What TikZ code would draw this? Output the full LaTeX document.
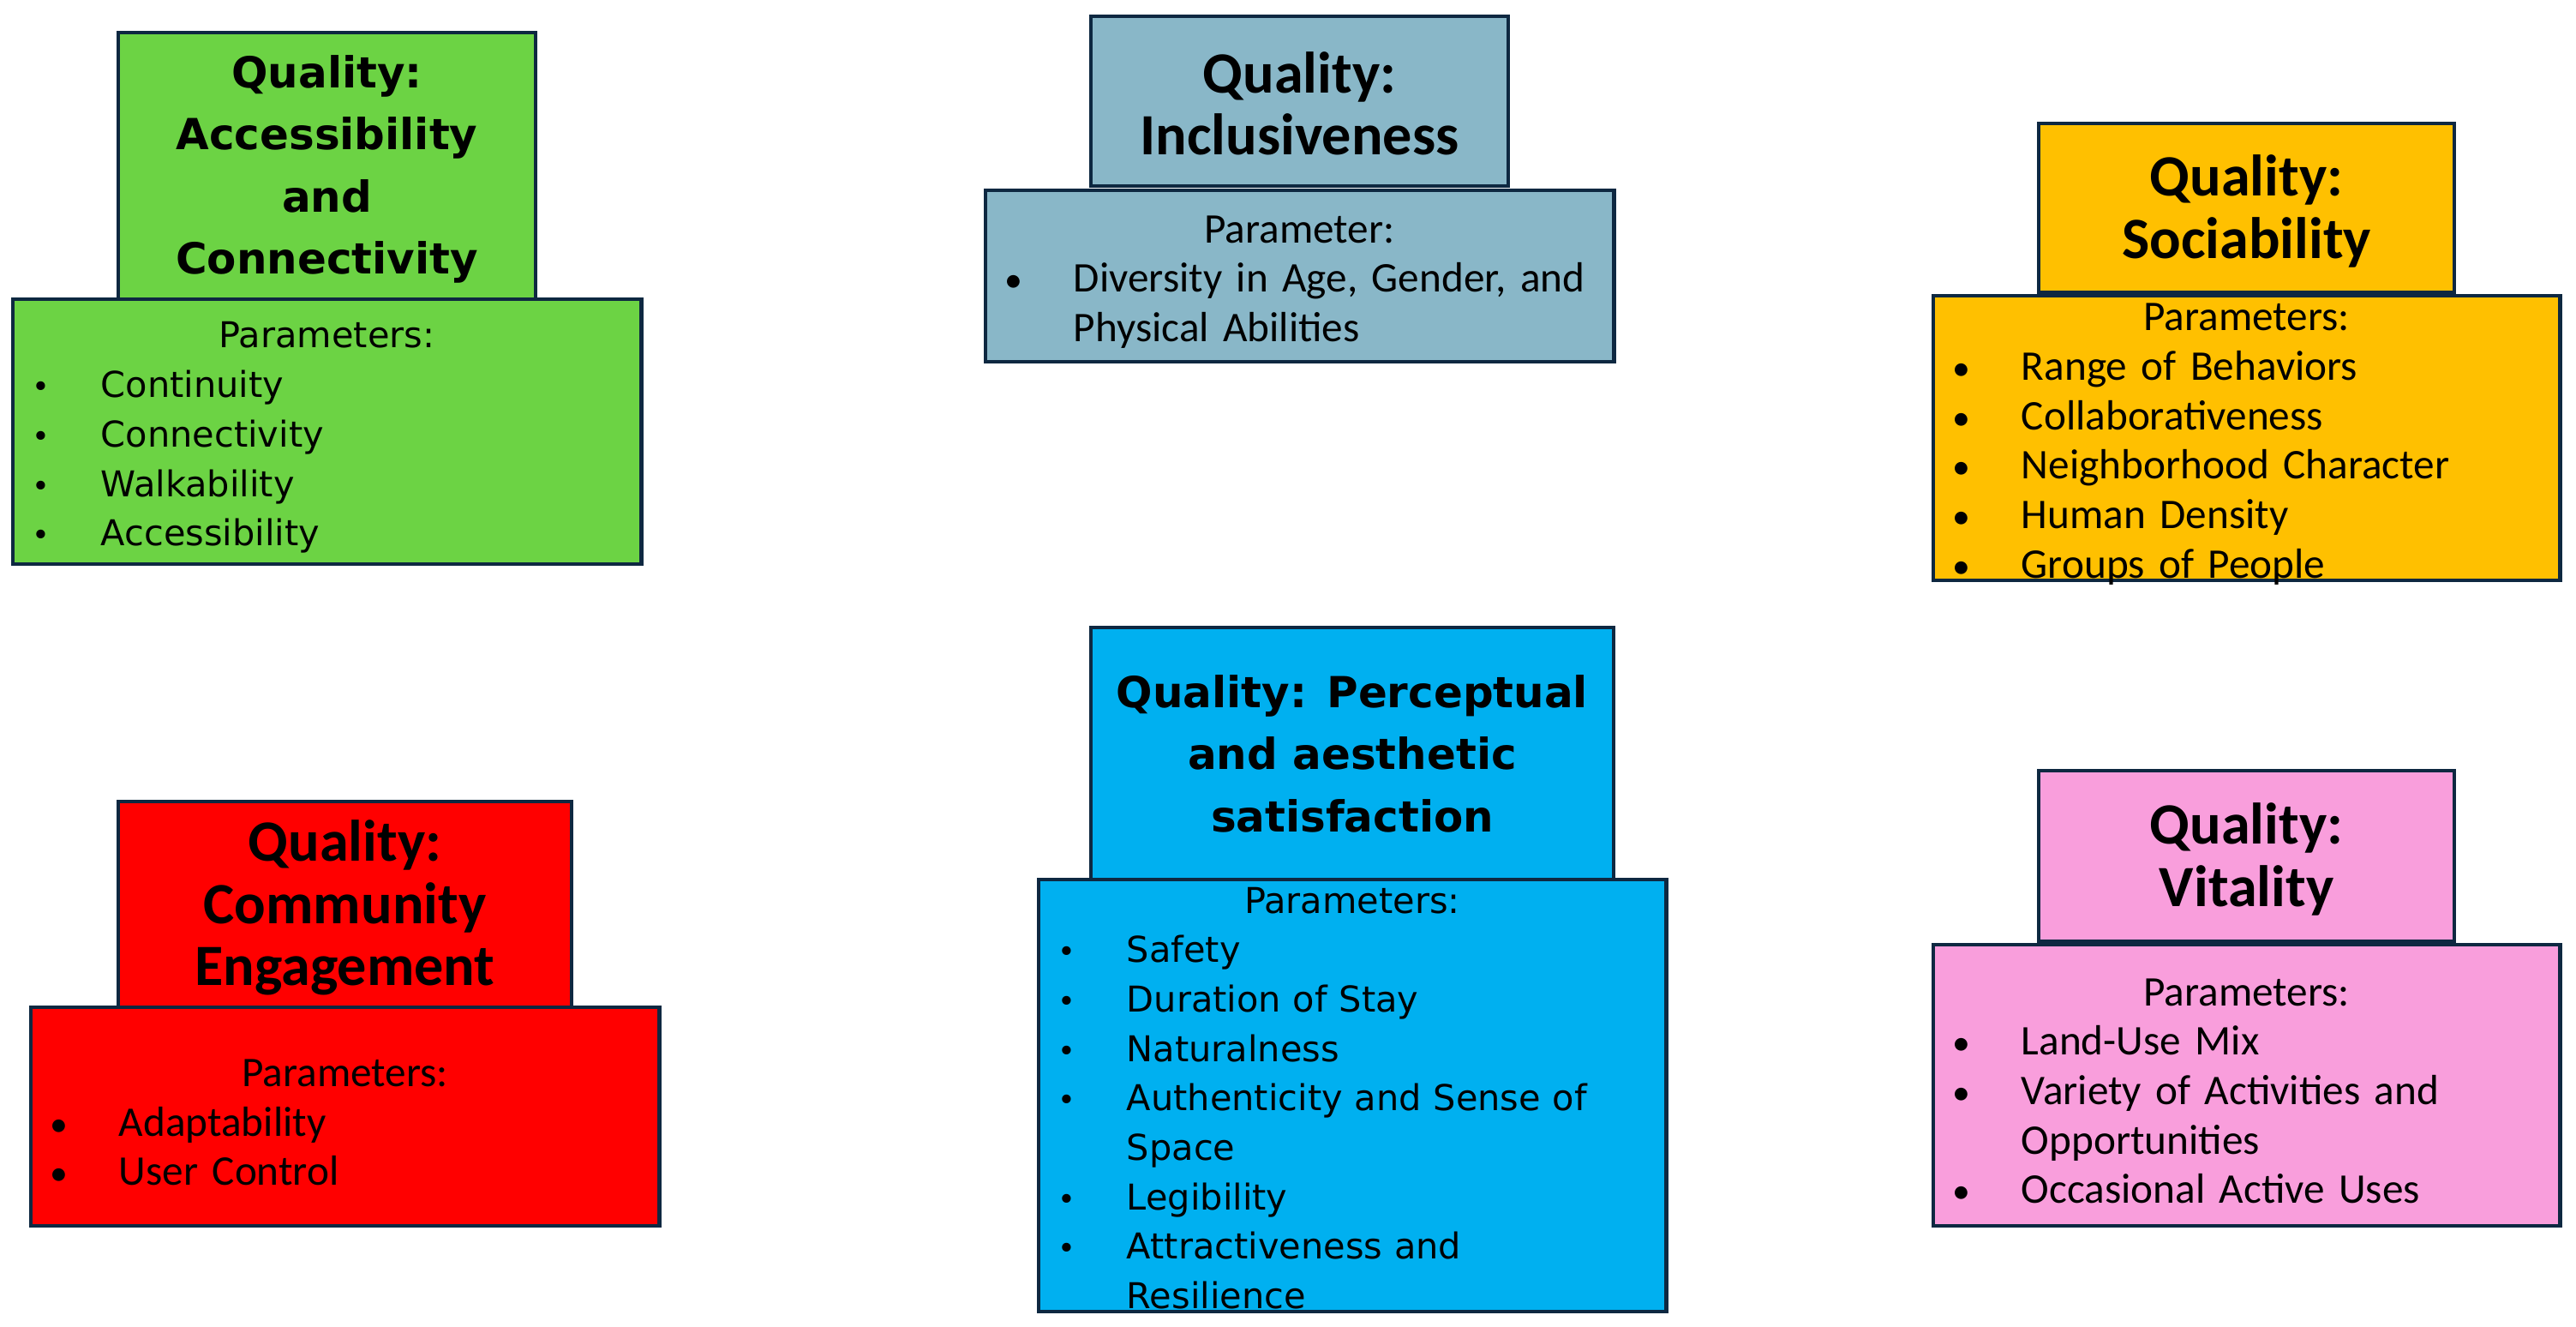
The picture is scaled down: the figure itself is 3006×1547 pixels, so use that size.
\documentclass[tikz,border=0pt]{standalone}
\usepackage{fontspec}
\setmainfont{Carlito}
\newfontfamily\carl{Carlito}
\newfontfamily\dvs{DejaVu Sans}
\definecolor{edge}{HTML}{0E2841}
\definecolor{cgreen}{HTML}{6CD344}
\definecolor{cincl}{HTML}{89B7C8}
\definecolor{cgold}{HTML}{FFC000}
\definecolor{cred}{HTML}{FF0000}
\definecolor{cperc}{HTML}{00B0F0}
\definecolor{cpink}{HTML}{F99EDC}
\newcommand\qtW{\dvs\bfseries\fontsize{14.2}{20.6}\selectfont}
\newcommand\qtC{\carl\bfseries\fontsize{19.4}{20.6}\selectfont}
\newcommand\qbW{\dvs\fontsize{11.8}{16.4}\selectfont}
\newcommand\qbC{\carl\fontsize{14}{16.4}\selectfont}
\newcommand\itm[1]{\par\noindent\hspace*{0.33cm}\makebox[0pt]{\scalebox{0.85}{\textbullet}}\hspace*{0.70cm}#1}
\newcommand\cnt[1]{\par\noindent\hspace*{1.03cm}#1}
\begin{document}
\begin{tikzpicture}[x=0.01cm,y=-0.01cm,
  qbox/.style={draw=edge, line width=1.3pt, inner sep=0pt, outer sep=0pt, align=center, text=black},
  body/.style={inner sep=0pt, outer sep=0pt, align=left, text=black, yshift=-0.07cm}]
\fill[white] (0,0) rectangle (3006,1547);
\useasboundingbox (0,0) rectangle (3006,1547);

% Accessibility and Connectivity
\node[qbox, fill=cgreen, minimum width=4.87cm, minimum height=3.11cm] (gT) at (381.5,193.5) {};
\node[font=\qtW, align=center, inner sep=0pt, yshift=-0.04cm] (gTt) at (gT.center) {Quality:\\Accessibility\\and\\Connectivity};
\node[qbox, fill=cgreen, minimum width=7.33cm, minimum height=3.09cm] (gB) at (381.5,503.5) {};
\node[body, text width=7.33cm, font=\qbW] (gL) at (gB.center) {\centerline{Parameters:}\itm{Continuity}\itm{Connectivity}\itm{Walkability}\itm{Accessibility}};

% Inclusiveness
\node[qbox, fill=cincl, minimum width=4.87cm, minimum height=1.98cm] (iT) at (1516.5,118) {};
\node[font=\qtC, align=center, inner sep=0pt, yshift=-0.03cm] (iTt) at (iT.center) {Quality:\\Inclusiveness};
\node[qbox, fill=cincl, minimum width=7.33cm, minimum height=2.00cm] (iB) at (1516.5,322) {};
\node[body, text width=7.33cm, font=\qbC] (iL) at (iB.center) {\centerline{Parameter:}\itm{Diversity in Age, Gender, and}\cnt{Physical Abilities}};

% Sociability
\node[qbox, fill=cgold, minimum width=4.85cm, minimum height=1.97cm] (sT) at (2621.5,242.5) {};
\node[font=\qtC, align=center, inner sep=0pt, yshift=-0.04cm] (sTt) at (sT.center) {Quality:\\Sociability};
\node[qbox, fill=cgold, minimum width=7.31cm, minimum height=3.32cm] (sB) at (2621.5,511) {};
\node[body, text width=7.31cm, font=\qbC] (sL) at (sB.center) {\centerline{Parameters:}\itm{Range of Behaviors}\itm{Collaborativeness}\itm{Neighborhood Character}\itm{Human Density}\itm{Groups of People}};

% Community Engagement
\node[qbox, fill=cred, minimum width=5.29cm, minimum height=2.40cm] (cT) at (402.5,1055) {};
\node[font=\qtC, align=center, inner sep=0pt, yshift=-0.04cm] (cTt) at (cT.center) {Quality:\\Community\\Engagement};
\node[qbox, fill=cred, minimum width=7.33cm, minimum height=2.55cm] (cB) at (402.5,1302.5) {};
\node[body, text width=7.33cm, font=\qbC] (cL) at (cB.center) {\centerline{Parameters:}\itm{Adaptability}\itm{User Control}};

% Perceptual and aesthetic satisfaction
\node[qbox, fill=cperc, minimum width=6.10cm, minimum height=2.94cm] (pT) at (1578,879) {};
\node[font=\qtW, align=center, inner sep=0pt] (pTt) at (pT.center) {Quality: Perceptual\\and aesthetic\\satisfaction};
\node[qbox, fill=cperc, minimum width=7.32cm, minimum height=5.04cm] (pB) at (1578,1278) {};
\node[body, text width=7.32cm, font=\qbW, yshift=0.04cm] (pL) at (pB.center) {\centerline{Parameters:}\itm{Safety}\itm{Duration of Stay}\itm{Naturalness}\itm{Authenticity and Sense of}\cnt{Space}\itm{Legibility}\itm{Attractiveness and}\cnt{Resilience}};

% Vitality
\node[qbox, fill=cpink, minimum width=4.85cm, minimum height=1.99cm] (vT) at (2621.5,998.5) {};
\node[font=\qtC, align=center, inner sep=0pt, yshift=-0.04cm] (vTt) at (vT.center) {Quality:\\Vitality};
\node[qbox, fill=cpink, minimum width=7.31cm, minimum height=3.28cm] (vB) at (2621.5,1266) {};
\node[body, text width=7.31cm, font=\qbC] (vL) at (vB.center) {\centerline{Parameters:}\itm{Land-Use Mix}\itm{Variety of Activities and}\cnt{Opportunities}\itm{Occasional Active Uses}};
\end{tikzpicture}
\end{document}
